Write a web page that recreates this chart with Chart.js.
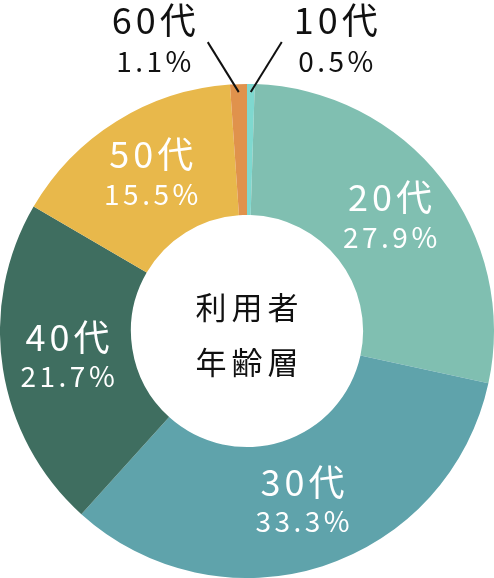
<!DOCTYPE html>
<html>
<head>
<meta charset="utf-8">
<script src="https://cdn.jsdelivr.net/npm/chart.js@4/dist/chart.umd.min.js"></script>
<style>
html,body{margin:0;padding:0;background:#fff;}
#wrap{width:494px;height:578px;position:relative;}
</style>
</head>
<body>
<div id="wrap"><canvas id="c"></canvas></div>
<script>
const categories = ['10代', '20代', '30代', '40代', '50代', '60代'];
const values = [0.5, 27.9, 33.3, 21.7, 15.5, 1.1];
const colors = ['#7fd8cf', '#80bfb1', '#5fa3ab', '#3f6e60', '#e8b84b', '#e0924c'];
const centerLines = ['利用者', '年齢層'];
const FONT = '"Noto Sans CJK JP", "Noto Sans", sans-serif';

function spacedText(ctx, text, x, y, spacing) {
  ctx.letterSpacing = spacing + 'px';
  ctx.fillText(text, x + spacing / 2, y);
}

const labelPlugin = {
  id: 'labelPlugin',
  afterDraw(chart) {
    const ctx = chart.ctx;
    const meta = chart.getDatasetMeta(0);
    const first = meta.data[0];
    const cx = first.x, cy = first.y;
    ctx.save();
    ctx.textAlign = 'center';
    ctx.textBaseline = 'middle';
    ctx.fillStyle = '#111';
    ctx.font = '400 31px ' + FONT;
    spacedText(ctx, centerLines[0], cx, cy - 24, 5);
    spacedText(ctx, centerLines[1], cx, cy + 31, 5);

    meta.data.forEach((arc, i) => {
      const v = values[i];
      const pct = v.toFixed(1) + '%';
      const name = categories[i];
      const mid = (arc.startAngle + arc.endAngle) / 2;
      if (v >= 5) {
        const p = arc.getCenterPoint();
        ctx.fillStyle = '#fff';
        ctx.font = '400 36px ' + FONT;
        spacedText(ctx, name, p.x, p.y - 22, 4);
        ctx.font = '400 28px ' + FONT;
        spacedText(ctx, pct, p.x, p.y + 18, 3.5);
      } else {
        const r = arc.outerRadius - 8;
        const ax = cx + Math.cos(mid) * r;
        const ay = cy + Math.sin(mid) * r;
        const dir = Math.cos(mid) >= 0 ? 1 : -1;
        const bx = ax + dir * 31, by = ay - 50;
        ctx.strokeStyle = '#111';
        ctx.lineWidth = 2;
        ctx.beginPath();
        ctx.moveTo(ax, ay);
        ctx.lineTo(bx, by);
        ctx.stroke();
        ctx.fillStyle = '#111';
        ctx.font = '400 36px ' + FONT;
        spacedText(ctx, name, bx + dir * 54, by - 22, 4);
        ctx.font = '400 28px ' + FONT;
        spacedText(ctx, pct, bx + dir * 54, by + 19, 3.5);
      }
    });
    ctx.restore();
  }
};

new Chart(document.getElementById('c'), {
  type: 'doughnut',
  data: {
    labels: categories,
    datasets: [{
      data: values,
      backgroundColor: colors,
      borderWidth: 0
    }]
  },
  options: {
    responsive: true,
    maintainAspectRatio: false,
    animation: false,
    cutout: '47%',
    layout: { padding: { top: 84, bottom: 0, left: 0, right: 0 } },
    plugins: {
      legend: { display: false },
      tooltip: { enabled: false }
    }
  },
  plugins: [labelPlugin]
});
</script>
</body>
</html>
